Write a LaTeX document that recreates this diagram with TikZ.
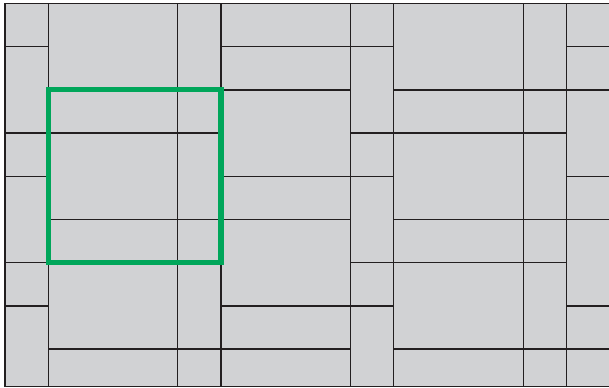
\documentclass[tikz,border=0pt]{standalone}
\tikzset{
  paving/.style={fill={rgb,255:red,209;green,210;blue,212}},
  joint/.style={draw={rgb,255:red,35;green,31;blue,32},line width=0.5pt},
  patch/.style={draw={rgb,255:red,0;green,166;blue,90},line width=2pt}
}
\begin{document}
\begin{tikzpicture}[x=0.6cm,y=-0.6cm]
    \useasboundingbox (-0.116,-0.081) rectangle (13.981,8.90);
    \fill[paving] (0,0) rectangle (14.2,8.87);
    \foreach \y in {1,3,4,6,7} {
      \draw[joint] (0,\y) -- (1,\y);
      \draw[joint] (8,\y) -- (9,\y);
    }
    \foreach \y in {2,3,5,6,8} {
      \draw[joint] (1,\y) -- (5,\y);
      \draw[joint] (9,\y) -- (13,\y);
    }
    \foreach \y in {1,2,4,5,7,8} {
      \draw[joint] (5,\y) -- (8,\y);
      \draw[joint] (13,\y) -- (14.2,\y);
    }
    \foreach \x in {1,4,5,8,9,12,13}
      \draw[joint] (\x,0) -- (\x,8.87);
    \draw[joint] (14.2,0) -- (0,0) -- (0,8.87) -- (14.2,8.87);
    \draw[patch] (1,2) rectangle (5,6);
  \end{tikzpicture}
\end{document}
